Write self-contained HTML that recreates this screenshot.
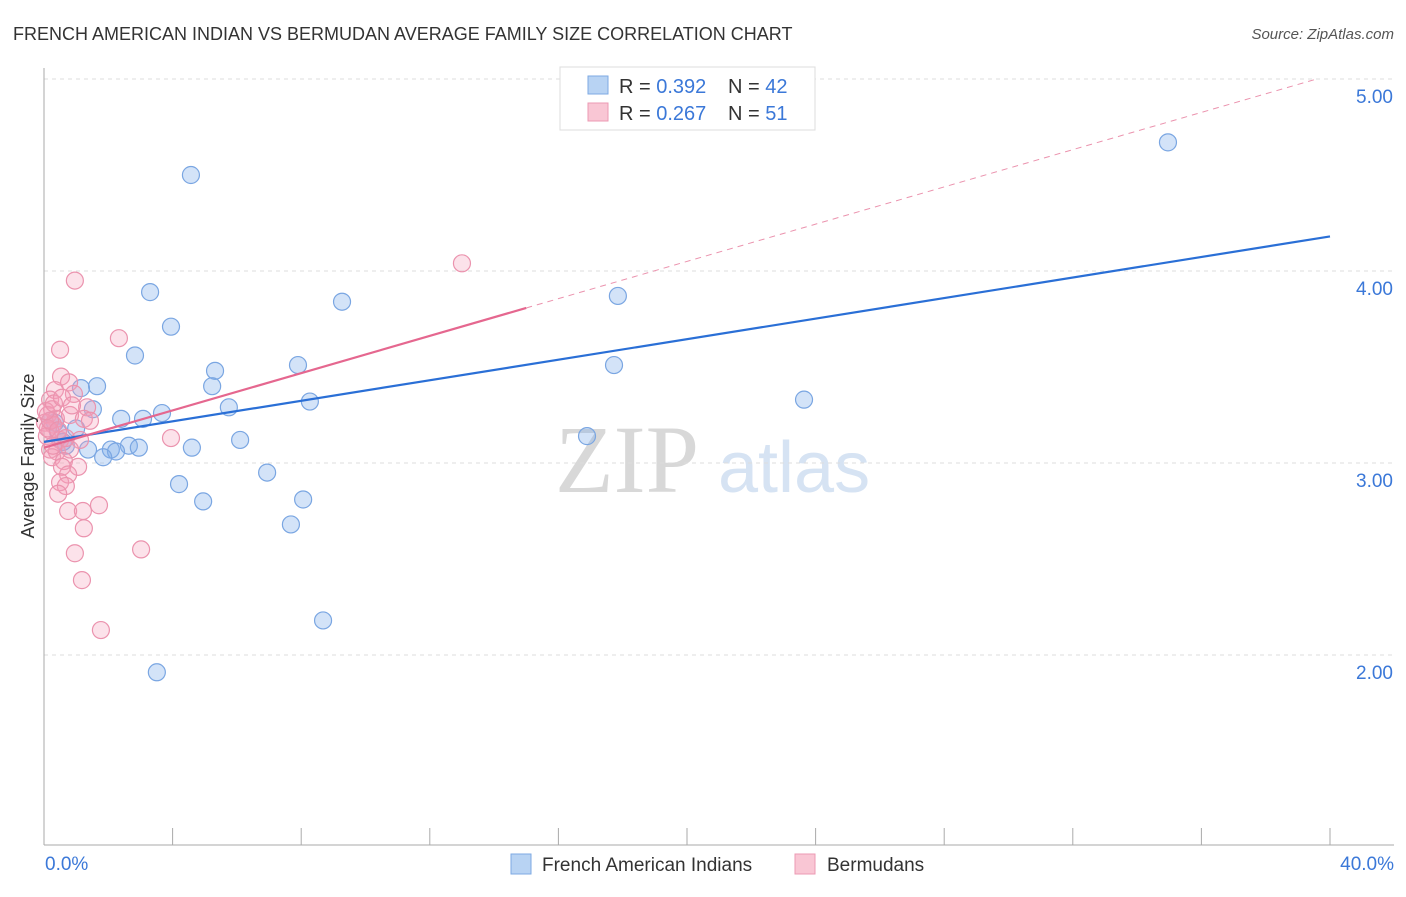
<!DOCTYPE html>
<html><head><meta charset="utf-8"><style>
body{margin:0;background:#fff;font-family:"Liberation Sans",sans-serif;}
svg text{font-family:"Liberation Sans",sans-serif;}
</style></head><body>
<svg id="chart" width="1406" height="892" xmlns="http://www.w3.org/2000/svg">
<text x="13" y="40" font-size="18" fill="#333">FRENCH AMERICAN INDIAN VS BERMUDAN AVERAGE FAMILY SIZE CORRELATION CHART</text>
<text x="1394" y="39" font-size="15" fill="#555" font-style="italic" text-anchor="end">Source: ZipAtlas.com</text>
<text x="555" y="492" font-size="96" fill="#d8d8d8" style="font-family:'Liberation Serif',serif">ZIP</text>
<text x="718" y="492" font-size="72" fill="#d6e3f3">atlas</text>
<g id="grid"></g>
<g id="axes"></g>
<g id="points"></g>
<g id="trends"></g>
<text transform="translate(34,456) rotate(-90)" font-size="18" fill="#333" text-anchor="middle">Average Family Size</text>
<g>
<rect x="560" y="67" width="255" height="63" fill="#fff" stroke="#ddd"/>
<rect x="588" y="76" width="20" height="18" fill="#b8d3f3" stroke="#7ea9e3"/>
<rect x="588" y="103" width="20" height="18" fill="#f9c6d4" stroke="#ec9ab3"/>
<text x="619" y="93" font-size="20" fill="#333">R = <tspan fill="#3b78d8">0.392</tspan></text>
<text x="728" y="93" font-size="20" fill="#333">N = <tspan fill="#3b78d8">42</tspan></text>
<text x="619" y="120" font-size="20" fill="#333">R = <tspan fill="#3b78d8">0.267</tspan></text>
<text x="728" y="120" font-size="20" fill="#333">N = <tspan fill="#3b78d8"> 51</tspan></text>
</g>
<g>
<rect x="511" y="854" width="20" height="20" fill="#b8d3f3" stroke="#7ea9e3"/>
<text x="542" y="871" font-size="19" fill="#333">French American Indians</text>
<rect x="795" y="854" width="20" height="20" fill="#f9c6d4" stroke="#ec9ab3"/>
<text x="827" y="871" font-size="19" fill="#333">Bermudans</text>
</g>
</svg>
<script>
const yTicks=[2,3,4,5];
const yTickLabels=["2.00","3.00","4.00","5.00"];
const xEndLabels=["0.0%","40.0%"];
const blueX=[4.57,34.96,3.30,9.27,17.85,3.95,2.83,7.90,17.73,5.32,5.23,1.65,1.15,1.52,5.75,8.27,23.64,2.40,3.08,3.67,0.34,1.00,0.44,6.10,16.89,4.60,2.08,2.64,2.95,1.37,2.24,1.84,6.94,4.20,4.95,8.06,7.68,8.68,3.51,0.59,0.68,0.19];
const blueY=[4.50,4.67,3.89,3.84,3.87,3.71,3.56,3.51,3.51,3.48,3.40,3.40,3.39,3.28,3.29,3.32,3.33,3.23,3.23,3.26,3.21,3.18,3.16,3.12,3.14,3.08,3.07,3.09,3.08,3.07,3.06,3.03,2.95,2.89,2.80,2.81,2.68,2.18,1.91,3.11,3.09,3.22];
const pinkX=[0.96,13.0,2.33,0.50,0.53,0.78,0.34,0.93,1.34,0.19,0.25,0.12,0.37,0.81,0.03,0.28,0.19,0.09,1.24,0.50,1.12,0.19,0.40,0.81,0.25,0.62,1.06,0.56,0.75,0.50,0.68,0.44,0.75,1.71,1.21,1.24,3.02,0.96,1.18,1.77,3.95,0.12,0.19,0.06,0.31,0.56,0.87,0.44,0.68,1.43,0.28];
const pinkY=[3.95,4.04,3.65,3.59,3.45,3.42,3.38,3.36,3.29,3.33,3.28,3.25,3.23,3.25,3.21,3.20,3.17,3.14,3.23,3.12,3.12,3.07,3.06,3.07,3.03,3.01,2.98,2.98,2.94,2.90,2.88,2.84,2.75,2.78,2.75,2.66,2.55,2.53,2.39,2.13,3.13,3.18,3.22,3.27,3.31,3.34,3.30,3.17,3.13,3.22,3.09];
const blueTrend=[3.11,0.02675];
const pinkTrend=[3.08,0.0485];
const pinkSolidEnd=15.0;

const NS="http://www.w3.org/2000/svg";
const X=v=>44+v*32.15;
const Y=v=>79+(5-v)*192;
function mk(tag,attrs,parent){const e=document.createElementNS(NS,tag);for(const k in attrs)e.setAttribute(k,attrs[k]);document.getElementById(parent).appendChild(e);return e;}

yTicks.forEach((t,i)=>{
  const l=mk('line',{x1:44,x2:1394,y1:Y(t),y2:Y(t),stroke:'#ddd','stroke-dasharray':'4,4'},'grid');
  
  
  const tx=mk('text',{x:1393,y:Y(t)+24,'font-size':19,fill:'#3b78d8','text-anchor':'end'},'axes');
  tx.textContent=yTickLabels[i];
  
  
});
const ax=mk('line',{x1:44,x2:44,y1:68,y2:845,stroke:'#aaa'},'axes');


const bx=mk('line',{x1:44,x2:1394,y1:845,y2:845,stroke:'#aaa'},'axes');


for(let p=4;p<=40;p+=4){
  const t=mk('line',{x1:X(p),x2:X(p),y1:828,y2:845,stroke:'#aaa'},'axes');
  
  
}
[[0,'start',45],[40,'end',1394]].forEach((d,i)=>{
  const t=mk('text',{x:d[2],y:870,'font-size':19,fill:'#3b78d8','text-anchor':d[1]},'axes');
  t.textContent=xEndLabels[i];
  
  
});
blueX.forEach((v,i)=>{
  const c=mk('circle',{cx:X(v),cy:Y(blueY[i]),r:8.5,fill:'rgba(130,175,235,0.35)',stroke:'#7aa6e2','stroke-width':1.2},'points');
  
  
});
pinkX.forEach((v,i)=>{
  const c=mk('circle',{cx:X(v),cy:Y(pinkY[i]),r:8.5,fill:'rgba(245,160,185,0.3)',stroke:'#eb93ae','stroke-width':1.2},'points');
  
  
});
const bl=mk('line',{x1:X(0),y1:Y(blueTrend[0]),x2:X(40),y2:Y(blueTrend[0]+40*blueTrend[1]),stroke:'#2a6fd6','stroke-width':2.2},'trends');


const pEnd=(5-pinkTrend[0])/pinkTrend[1];
const pd=mk('line',{x1:X(pinkSolidEnd),y1:Y(pinkTrend[0]+pinkSolidEnd*pinkTrend[1]),x2:X(pEnd),y2:Y(5),stroke:'#eb93ae','stroke-width':1,'stroke-dasharray':'6,5'},'trends');


const pl=mk('line',{x1:X(0),y1:Y(pinkTrend[0]),x2:X(pinkSolidEnd),y2:Y(pinkTrend[0]+pinkSolidEnd*pinkTrend[1]),stroke:'#e5678f','stroke-width':2.2},'trends');


</script>
</body></html>
